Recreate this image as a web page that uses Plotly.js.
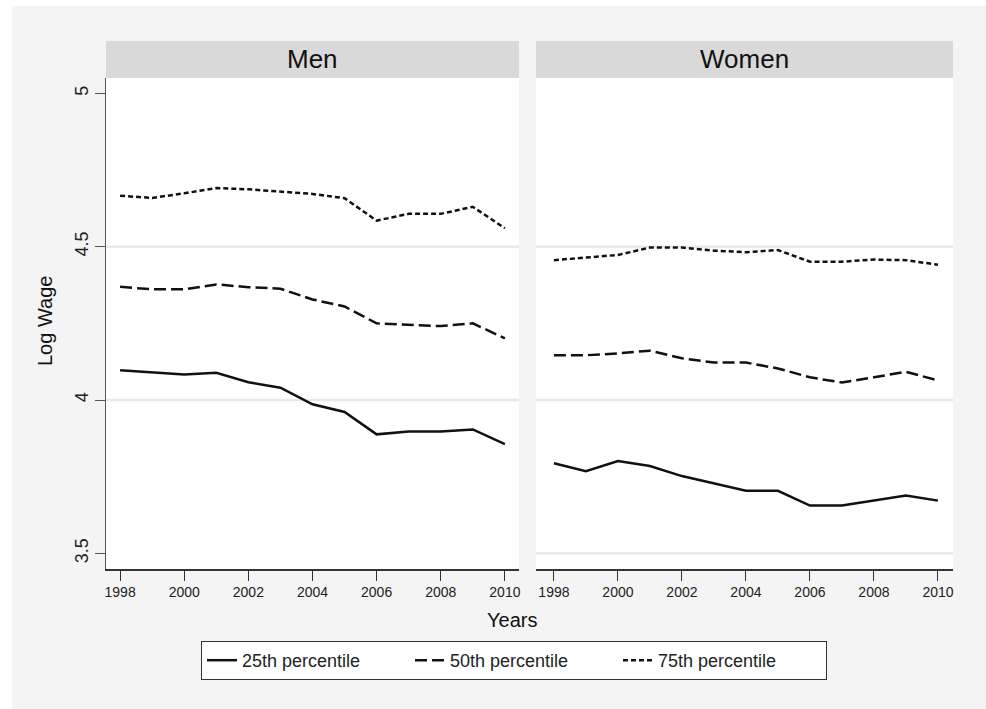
<!DOCTYPE html>
<html>
<head>
<meta charset="utf-8">
<script src="https://cdn.plot.ly/plotly-3.0.1.min.js"></script>
<style>html,body{margin:0;padding:0;background:#f4f4f4;}#chart{width:986px;height:709px;}</style>
</head>
<body>
<div id="chart"></div>
<script>
const years = [1998,1999,2000,2001,2002,2003,2004,2005,2006,2007,2008,2009,2010];
const seriesNames = ["25th percentile","50th percentile","75th percentile"];
const panelNames = ["Men","Women"];
const yTicks = [3.5,4,4.5,5];
const yTickText = ["3.5","4","4.5","5"];
const xTicks = [1998,2000,2002,2004,2006,2008,2010];
const menGrid = [4,4.5];
const womenGrid = [3.5,4,4.5];

const men25 = [4.097,4.089,4.083,4.089,4.058,4.040,3.986,3.961,3.888,3.897,3.897,3.904,3.856];
const men50 = [4.369,4.361,4.361,4.377,4.368,4.363,4.328,4.305,4.250,4.245,4.241,4.250,4.201];
const men75 = [4.666,4.659,4.674,4.691,4.687,4.679,4.672,4.658,4.585,4.607,4.607,4.630,4.560];
const women25 = [3.794,3.768,3.801,3.785,3.752,3.728,3.704,3.704,3.656,3.656,3.673,3.689,3.672];
const women50 = [4.146,4.146,4.152,4.161,4.136,4.122,4.122,4.103,4.074,4.057,4.074,4.092,4.064];
const women75 = [4.456,4.465,4.473,4.497,4.497,4.487,4.482,4.489,4.451,4.451,4.458,4.456,4.441];

const dashes = ["solid","12px,5px","5px,3px"];
const menSeries = [men25, men50, men75];
const womenSeries = [women25, women50, women75];

const traces = [];
menSeries.forEach((ys, i) => traces.push({
  x: years, y: ys, type: "scatter", mode: "lines", name: seriesNames[i],
  legendgroup: "g" + i, showlegend: true, xaxis: "x", yaxis: "y",
  line: {color: "#111", width: 2.5, dash: dashes[i]}
}));
womenSeries.forEach((ys, i) => traces.push({
  x: years, y: ys, type: "scatter", mode: "lines", name: seriesNames[i],
  legendgroup: "g" + i, showlegend: false, xaxis: "x2", yaxis: "y2",
  line: {color: "#111", width: 2.5, dash: dashes[i]}
}));

const L = 106, R = 33, T = 78, B = 140, W = 986, H = 709;
const PW = W - L - R, PH = H - T - B;
const px = v => (v - L) / PW;        // pixel x -> paper
const py = v => (H - B - v) / PH;    // pixel y -> paper

const xcommon = {
  range: [1997.56, 2010.44], tickvals: xTicks, ticks: "outside", ticklen: 10,
  tickcolor: "#333", tickwidth: 1, showline: true, linecolor: "#333", linewidth: 1.5,
  showgrid: false, zeroline: false,
  tickfont: {family: "Liberation Sans, Arial, sans-serif", size: 14, color: "#222"}
};
const ycommon = {
  range: [3.449, 5.05], tickvals: yTicks, ticktext: yTickText, showgrid: false, zeroline: false
};

const gridShapes = [];
menGrid.forEach(v => gridShapes.push({type: "line", xref: "x domain", yref: "y", x0: 0, x1: 1, y0: v, y1: v,
  line: {color: "#e9e9e9", width: 2.5}, layer: "below"}));
womenGrid.forEach(v => gridShapes.push({type: "line", xref: "x2 domain", yref: "y2", x0: 0, x1: 1, y0: v, y1: v,
  line: {color: "#e9e9e9", width: 2.5}, layer: "below"}));

const layout = {
  width: W, height: H, autosize: false,
  margin: {l: L, r: R, t: T, b: B},
  paper_bgcolor: "#f4f4f4", plot_bgcolor: "#ffffff",
  font: {family: "Liberation Sans, Arial, sans-serif", color: "#222"},
  xaxis: Object.assign({}, xcommon, {domain: [0, px(519)], anchor: "y"}),
  xaxis2: Object.assign({}, xcommon, {domain: [px(536), 1], anchor: "y2", range: [1997.44, 2010.47]}),
  yaxis: Object.assign({}, ycommon, {
    domain: [0, 1], anchor: "x", ticks: "outside", ticklen: 10, tickcolor: "#555",
    showline: true, linecolor: "#555", linewidth: 1, tickangle: -90,
    tickfont: {family: "Liberation Sans, Arial, sans-serif", size: 18, color: "#222"}
  }),
  yaxis2: Object.assign({}, ycommon, {
    domain: [0, 1], anchor: "x2", showticklabels: false, ticks: "", showline: false
  }),
  showlegend: true,
  legend: {
    orientation: "h", x: px(514), xanchor: "center", y: py(641), yanchor: "top",
    bgcolor: "#ffffff", bordercolor: "#333", borderwidth: 1,
    font: {family: "Liberation Sans, Arial, sans-serif", size: 18, color: "#222"},
    entrywidth: 163, traceorder: "normal"
  },
  shapes: [
    {type: "rect", xref: "paper", yref: "paper", x0: 0, x1: px(519), y0: py(78), y1: py(41),
     fillcolor: "#d9d9d9", line: {width: 0}, layer: "below"},
    {type: "rect", xref: "paper", yref: "paper", x0: px(536), x1: 1, y0: py(78), y1: py(41),
     fillcolor: "#d9d9d9", line: {width: 0}, layer: "below"},
    {type: "rect", xref: "paper", yref: "paper", x0: px(0), x1: px(12), y0: py(709), y1: py(0),
     fillcolor: "#ffffff", line: {width: 0}, layer: "below"},
    {type: "rect", xref: "paper", yref: "paper", x0: px(0), x1: px(986), y0: py(6), y1: py(0),
     fillcolor: "#ffffff", line: {width: 0}, layer: "below"}
  ].concat(gridShapes),
  annotations: [
    {text: panelNames[0], xref: "paper", yref: "paper", x: px(312.5), y: py(59.5),
     xanchor: "center", yanchor: "middle", showarrow: false,
     font: {size: 26, color: "#111"}},
    {text: panelNames[1], xref: "paper", yref: "paper", x: px(744.5), y: py(59.5),
     xanchor: "center", yanchor: "middle", showarrow: false,
     font: {size: 26, color: "#111"}},
    {text: "Years", xref: "paper", yref: "paper", x: px(512), y: py(620),
     xanchor: "center", yanchor: "middle", showarrow: false,
     font: {size: 20, color: "#111"}},
    {text: "Log Wage", xref: "paper", yref: "paper", x: px(45), y: py(321),
     xanchor: "center", yanchor: "middle", showarrow: false, textangle: -90,
     font: {size: 20, color: "#111"}}
  ]
};

Plotly.newPlot("chart", traces, layout, {displayModeBar: false, staticPlot: true});
</script>
</body>
</html>
